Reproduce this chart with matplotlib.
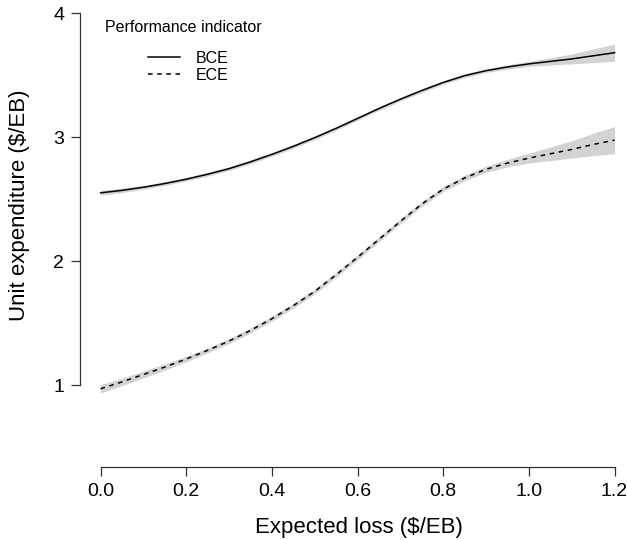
import numpy as np
import matplotlib.pyplot as plt

plt.rcParams['font.family'] = ['Liberation Sans', 'DejaVu Sans']

# Expected loss grid and fitted values
loss = [0.00, 0.05, 0.10, 0.15, 0.20, 0.25, 0.30, 0.35, 0.40, 0.45, 0.50, 0.55, 0.60,
        0.65, 0.70, 0.75, 0.80, 0.85, 0.90, 0.95, 1.00, 1.05, 1.10, 1.15, 1.20]

bce = [2.55, 2.57, 2.595, 2.625, 2.66, 2.70, 2.745, 2.80, 2.86, 2.925, 2.995, 3.07, 3.15,
       3.23, 3.305, 3.375, 3.44, 3.495, 3.535, 3.565, 3.59, 3.61, 3.63, 3.655, 3.68]
bce_se = [0.02, 0.018, 0.016, 0.015, 0.015, 0.015, 0.015, 0.015, 0.015, 0.015, 0.015, 0.015, 0.015,
          0.015, 0.015, 0.015, 0.015, 0.015, 0.015, 0.018, 0.02, 0.03, 0.04, 0.055, 0.07]

ece = [0.97, 1.025, 1.085, 1.145, 1.21, 1.28, 1.355, 1.44, 1.535, 1.64, 1.755, 1.89, 2.03,
       2.175, 2.32, 2.46, 2.58, 2.67, 2.74, 2.79, 2.83, 2.865, 2.90, 2.94, 2.975]
ece_se = [0.035, 0.03, 0.028, 0.025, 0.022, 0.02, 0.02, 0.02, 0.02, 0.02, 0.02, 0.02, 0.02,
          0.02, 0.02, 0.02, 0.02, 0.022, 0.025, 0.03, 0.04, 0.055, 0.07, 0.09, 0.11]

x_ticks = [0.0, 0.2, 0.4, 0.6, 0.8, 1.0, 1.2]
y_ticks = [1, 2, 3, 4]

loss = np.array(loss)
bce, bce_se = np.array(bce), np.array(bce_se)
ece, ece_se = np.array(ece), np.array(ece_se)

W, H = 627, 540
fig = plt.figure(figsize=(W / 100, H / 100), dpi=100)

# plot region in pixels: left edge 80, bottom edge 467 from top, R-style 4% padding on x
xlim = (-0.048, 1.248)
px_per_x = 514 / 1.2
ax_w = (xlim[1] - xlim[0]) * px_per_x
ylim = (0.339, 0.339 + 467 / 124)
ax = fig.add_axes([80 / W, (H - 467) / H, ax_w / W, 467 / H])
ax.set_xlim(*xlim)
ax.set_ylim(*ylim)

ax.fill_between(loss, bce - bce_se, bce + bce_se, color='#d3d3d3', lw=0)
ax.fill_between(loss, ece - ece_se, ece + ece_se, color='#d3d3d3', lw=0)
ax.plot(loss, bce, color='black', lw=1.1, label='BCE')
ax.plot(loss, ece, color='black', lw=1.1, ls=(0, (3, 3)), label='ECE')

for s in ['top', 'right']:
    ax.spines[s].set_visible(False)
ax.spines['bottom'].set_bounds(0, 1.2)
ax.spines['left'].set_bounds(1, 4)
for s in ['bottom', 'left']:
    ax.spines[s].set_linewidth(0.9)
    ax.spines[s].set_color('#333333')

ax.set_xticks(x_ticks)
ax.set_xticklabels([f'{v:.1f}' for v in x_ticks])
ax.set_yticks(y_ticks)
ax.tick_params(direction='out', length=6.5, width=0.9, labelsize=14, pad=5, color='#333333')

fig.text(359 / W, 1 - 527 / H, 'Expected loss ($/EB)', ha='center', va='center', fontsize=16)
fig.text(20 / W, 1 - 205 / H, 'Unit expenditure ($/EB)', ha='center', va='center',
         rotation=90, fontsize=16)

# legend title placed separately (R puts more room under it than between rows)
fig.text(105 / W, 1 - 27 / H, 'Performance indicator', ha='left', va='center', fontsize=11.5)
leg = ax.legend(loc='upper left',
                bbox_to_anchor=(148 / W, 1 - 51 / H), bbox_transform=fig.transFigure,
                frameon=False, fontsize=11.5, handlelength=2.0,
                handletextpad=1.0, labelspacing=0.12, borderpad=0, borderaxespad=0)

fig.savefig('out.png', dpi=100)
